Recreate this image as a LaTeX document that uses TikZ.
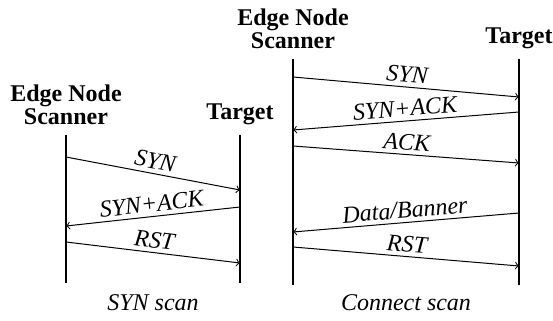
\documentclass[tikz,border=0pt]{standalone}
\usepackage{fontspec}
\setmainfont{Liberation Serif}
\usetikzlibrary{arrows,positioning}

\begin{document}
\begin{tikzpicture}[
    x=0.5pt,
    y=-0.5pt,
    >=to,
    head/.style={font=\fontsize{12}{11.5}\selectfont\bfseries,align=center,inner sep=1pt},
    lifeline/.style={line width=1.2pt},
    msg/.style={->,line width=0.5pt},
    msglabel/.style={font=\fontsize{12}{13}\selectfont\itshape,sloped,above,inner sep=2pt},
    caption/.style={font=\fontsize{12}{13}\selectfont\itshape,anchor=base}
]
\useasboundingbox (0,0) rectangle (553,321);

% SYN scan lifelines
\coordinate (scanA) at (66,135);
\coordinate (scanAend) at (66,283);
\coordinate (targA) at (240,135);
\coordinate (targAend) at (240,283);
\node[head, above=4pt of scanA] (scannerA) {Edge Node\\Scanner};
\node[head, above=4pt of targA] (targetA) {Target};
\draw[lifeline] (scanA) -- (scanAend);
\draw[lifeline] (targA) -- (targAend);

% Connect scan lifelines
\coordinate (scanB) at (293,59);
\coordinate (scanBend) at (293,285);
\coordinate (targB) at (519,59);
\coordinate (targBend) at (519,285);
\node[head, above=4pt of scanB] (scannerB) {Edge Node\\Scanner};
\node[head, above=4pt of targB] (targetB) {Target};
\draw[lifeline] (scanB) -- (scanBend);
\draw[lifeline] (targB) -- (targBend);

% SYN scan messages
\draw[msg] (scanA |- 0,157) -- node[msglabel] {SYN} (targA |- 0,190);
\draw[msg] (targA |- 0,207) -- node[msglabel] {SYN+ACK} (scanA |- 0,226);
\draw[msg] (scanA |- 0,242) -- node[msglabel] {RST} (targA |- 0,263);

% Connect scan messages
\draw[msg] (scanB |- 0,77) -- node[msglabel] {SYN} (targB |- 0,97);
\draw[msg] (targB |- 0,112) -- node[msglabel] {SYN+ACK} (scanB |- 0,130);
\draw[msg] (scanB |- 0,146) -- node[msglabel] {ACK} (targB |- 0,163);
\draw[msg] (targB |- 0,213) -- node[msglabel] {Data/Banner} (scanB |- 0,232);
\draw[msg] (scanB |- 0,247) -- node[msglabel] {RST} (targB |- 0,266);

% Captions
\node[caption] (capA) at (153,310) {SYN scan};
\node[caption] (capB) at (406,310) {Connect scan};

\end{tikzpicture}
\end{document}
